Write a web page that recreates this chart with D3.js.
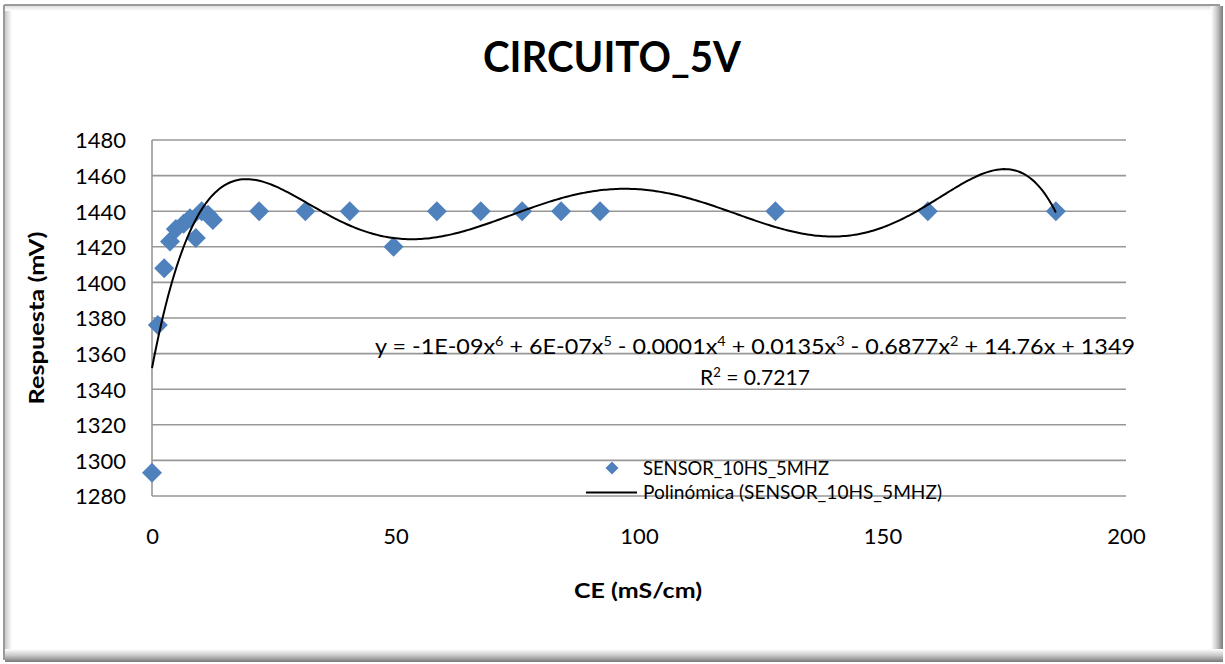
<!DOCTYPE html>
<html><head><meta charset="utf-8">
<script src="https://cdn.jsdelivr.net/npm/d3@7"></script>
<style>
html,body{margin:0;padding:0;background:#fff;}
svg{display:block;}
text{font-family:Lato,"Open Sans",sans-serif;fill:#000;}
</style></head>
<body>
<svg id="c" width="1225" height="664"></svg>
<script>
// ---- data ----
const ceValues = [0, 1.2, 2.5, 3.7, 4.9, 6.5, 7.8, 9.0, 10.2, 11.5, 12.5, 22, 31.5, 40.6, 49.6, 58.5, 67.5, 76, 84, 92, 128, 159.3, 185.6];
const respuestaValues = [1293, 1376, 1408, 1423, 1430, 1433, 1436, 1425, 1440, 1438, 1435, 1440, 1440, 1440, 1420, 1440, 1440, 1440, 1440, 1440, 1440, 1440, 1440];
const xTicks = [0, 50, 100, 150, 200];
const yTicks = [1280, 1300, 1320, 1340, 1360, 1380, 1400, 1420, 1440, 1460, 1480];
const titleText = "CIRCUITO_5V";
const xTitle = "CE (mS/cm)";
const yTitle = "Respuesta (mV)";
const seriesName = "SENSOR_10HS_5MHZ";
const trendName = "Polinómica (SENSOR_10HS_5MHZ)";
const eqParts = [["y = -1E-09x",""],["6","sup"],[" + 6E-07x",""],["5","sup"],[" - 0.0001x",""],["4","sup"],[" + 0.0135x",""],["3","sup"],[" - 0.6877x",""],["2","sup"],[" + 14.76x + 1349",""]];
const r2Parts = [["R",""],["2","sup"],[" = 0.7217",""]];
const polyDegree = 6;

const svg = d3.select("#c");
const defs = svg.append("defs");

// ---- frame ----
function grad(id, x1,y1,x2,y2, stops){
  const g = defs.append("linearGradient").attr("id",id).attr("x1",x1).attr("y1",y1).attr("x2",x2).attr("y2",y2);
  stops.forEach(s=>g.append("stop").attr("offset",s[0]).attr("stop-color",s[1]));
}
grad("gl",0,0,1,0,[[0,"#c8c8c8"],[1,"#ffffff"]]);
grad("gr",0,0,1,0,[[0,"#ffffff"],[0.5,"#c8c8c8"],[1,"#7a7a7a"]]);
grad("gb",0,0,0,1,[[0,"#ffffff"],[0.5,"#c8c8c8"],[1,"#7a7a7a"]]);
grad("gt",0,0,0,1,[[0,"#e0e0e0"],[1,"#ffffff"]]);
svg.append("rect").attr("x",0).attr("y",0).attr("width",1225).attr("height",664).attr("fill","#fff");
svg.append("rect").attr("x",5).attr("y",6).attr("width",7).attr("height",648).attr("fill","url(#gl)");
svg.append("rect").attr("x",5).attr("y",6).attr("width",1210).attr("height",5).attr("fill","url(#gt)");
svg.append("rect").attr("x",1211).attr("y",6).attr("width",12).attr("height",656).attr("fill","url(#gr)");
svg.append("rect").attr("x",5).attr("y",649).attr("width",1218).attr("height",13).attr("fill","url(#gb)");
svg.append("line").attr("x1",4).attr("x2",1220).attr("y1",5).attr("y2",5).attr("stroke","#9a9a9a").attr("stroke-width",2);
svg.append("line").attr("x1",4).attr("x2",4).attr("y1",5).attr("y2",660).attr("stroke","#9a9a9a").attr("stroke-width",2);

// ---- scales ----
const x = d3.scaleLinear().domain([0,200]).range([152,1126]);
const y = d3.scaleLinear().domain([1280,1480]).range([496,140]);

// gridlines
const g = svg.append("g");
g.selectAll("line.grid").data(yTicks).join("line").attr("class","grid")
  .attr("x1",x(0)).attr("x2",x(200)).attr("y1",d=>y(d)).attr("y2",d=>y(d))
  .attr("stroke","#979797").attr("stroke-width",1.6);
g.append("line").attr("x1",x(0)).attr("x2",x(0)).attr("y1",y(1480)).attr("y2",y(1280))
  .attr("stroke","#979797").attr("stroke-width",1.6);

// axes with d3 axis generators (labels only)
const yAxis = svg.append("g").attr("transform",`translate(${x(0)},0)`)
  .call(d3.axisLeft(y).tickValues(yTicks).tickSize(0).tickPadding(26).tickFormat(d3.format("d")));
yAxis.select(".domain").remove();
yAxis.selectAll("text").attr("font-family","Lato").attr("font-size",22).attr("fill","#000").attr("dy","0.36em");

const xAxis = svg.append("g").attr("transform",`translate(0,${y(1280)})`)
  .call(d3.axisBottom(x).tickValues(xTicks).tickSize(0).tickPadding(32).tickFormat(d3.format("d")));
xAxis.select(".domain").remove();
xAxis.selectAll("text").attr("font-family","Lato").attr("font-size",22).attr("fill","#000");

// ---- polynomial least squares fit ----
function polyfit(xs, ys, deg, sc){
  const n = deg+1;
  const A = Array.from({length:n},()=>new Array(n+1).fill(0));
  for(let k=0;k<xs.length;k++){
    const t = xs[k]/sc;
    const p = [];
    for(let i=0;i<n;i++) p.push(Math.pow(t,i));
    for(let i=0;i<n;i++){
      for(let j=0;j<n;j++) A[i][j]+=p[i]*p[j];
      A[i][n]+=p[i]*ys[k];
    }
  }
  for(let c=0;c<n;c++){
    let piv=c;
    for(let r=c+1;r<n;r++) if(Math.abs(A[r][c])>Math.abs(A[piv][c])) piv=r;
    [A[c],A[piv]]=[A[piv],A[c]];
    for(let r=0;r<n;r++){
      if(r===c) continue;
      const f=A[r][c]/A[c][c];
      for(let j=c;j<=n;j++) A[r][j]-=f*A[c][j];
    }
  }
  const coef = A.map((row,i)=>row[n]/row[i]);
  return xv => { const t=xv/sc; let s=0; for(let i=n-1;i>=0;i--) s=s*t+coef[i]; return s; };
}
const fit = polyfit(ceValues, respuestaValues, polyDegree, 100);
const xmin = d3.min(ceValues), xmax = d3.max(ceValues);
const curve = d3.range(0,401).map(i=>{const xv = xmin+(xmax-xmin)*i/400; return [xv, fit(xv)];});

// ---- markers ----
function diamond(r){ return `M0,${-r}L${r},0L0,${r}L${-r},0Z`; }
svg.append("g").selectAll("path").data(ceValues.map((v,i)=>[v,respuestaValues[i]])).join("path")
  .attr("d",diamond(10)).attr("transform",d=>`translate(${x(d[0])},${y(d[1])})`)
  .attr("fill","#4f81bd");

// trendline
svg.append("path").datum(curve)
  .attr("d",d3.line().x(d=>x(d[0])).y(d=>y(d[1])).curve(d3.curveLinear))
  .attr("fill","none").attr("stroke","#000").attr("stroke-width",2);

// ---- equation ----
function richText(parts, xpos, ypos, size, anchor, len){
  const t = svg.append("text").attr("x",xpos).attr("y",ypos).attr("font-size",size).attr("text-anchor",anchor);
  parts.forEach(p=>{
    const s = t.append("tspan").text(p[0]);
    if(p[1]==="sup"){ s.attr("font-size",size*0.62).attr("baseline-shift","55%"); }
  });
  if(len) t.attr("textLength",len).attr("lengthAdjust","spacingAndGlyphs");
  return t;
}
richText(eqParts, 375, 354, 22, "start", 760);
richText(r2Parts, 755, 385, 22, "middle", 110);

// ---- legend ----
svg.append("path").attr("d",diamond(6.5)).attr("transform","translate(612,468)").attr("fill","#4f81bd");
svg.append("text").attr("x",643).attr("y",475).attr("font-size",19).text(seriesName)
  .attr("textLength",186).attr("lengthAdjust","spacingAndGlyphs");
svg.append("line").attr("x1",586).attr("x2",637).attr("y1",492.5).attr("y2",492.5).attr("stroke","#000").attr("stroke-width",2);
svg.append("text").attr("x",643).attr("y",499).attr("font-size",19).text(trendName)
  .attr("textLength",299).attr("lengthAdjust","spacingAndGlyphs");

// ---- titles ----
svg.append("text").attr("x",483).attr("y",72).attr("font-size",42).attr("font-weight","bold").text(titleText)
  .attr("textLength",258).attr("lengthAdjust","spacingAndGlyphs");
svg.append("text").attr("x",574).attr("y",598).attr("font-size",20).attr("font-weight","bold").text(xTitle)
  .attr("textLength",128).attr("lengthAdjust","spacingAndGlyphs");
svg.append("text").attr("transform","translate(44,318) rotate(-90)").attr("text-anchor","middle")
  .attr("font-size",20).attr("font-weight","bold").text(yTitle)
  .attr("textLength",173).attr("lengthAdjust","spacingAndGlyphs");
</script>
</body></html>
